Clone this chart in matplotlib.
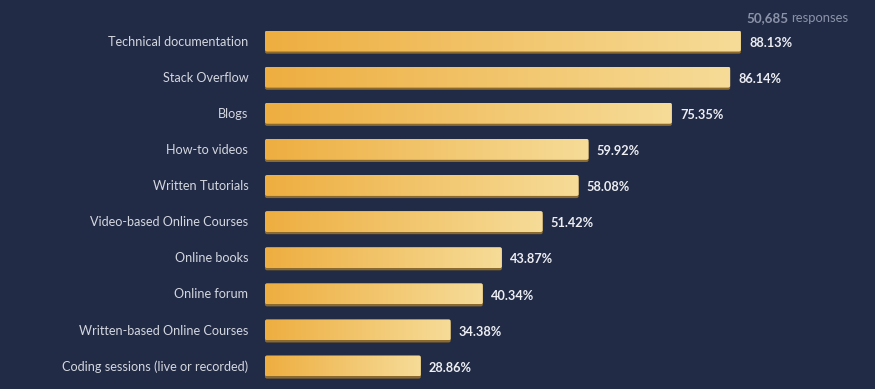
import numpy as np
import matplotlib
matplotlib.use("Agg")
import matplotlib.pyplot as plt
from matplotlib.patches import FancyBboxPatch
from matplotlib.colors import LinearSegmentedColormap

categories = ["Technical documentation", "Stack Overflow", "Blogs", "How-to videos",
              "Written Tutorials", "Video-based Online Courses", "Online books",
              "Online forum", "Written-based Online Courses",
              "Coding sessions (live or recorded)"]
values = [88.13, 86.14, 75.35, 59.92, 58.08, 51.42, 43.87, 40.34, 34.38, 28.86]
responses = "50,685"

BG = "#222b45"
plt.rcParams['font.family'] = ['Lato', 'DejaVu Sans']

fig = plt.figure(figsize=(8.75, 3.89), dpi=100, facecolor=BG)
ax = fig.add_axes([265 / 875, 5 / 389, 540 / 875, 361 / 389])
ax.set_facecolor(BG)
ax.set_xlim(0, 100)
ax.set_ylim(9.5, -0.5)
ax.axis("off")

cmap = LinearSegmentedColormap.from_list("bar", ["#eeae40", "#f6dc98"])
grad = np.linspace(0, 1, 256).reshape(1, -1)
h = 0.58
for i, (cat, v) in enumerate(zip(categories, values)):
    # shadow under the bar
    sh = FancyBboxPatch((0, i - h / 2 + 0.06), v, h, boxstyle="round,pad=0,rounding_size=0.4",
                        mutation_aspect=0.12, fc="#8a6a2e", ec="none", zorder=1)
    ax.add_patch(sh)
    p = FancyBboxPatch((0, i - h / 2), v, h, boxstyle="round,pad=0,rounding_size=0.4",
                       mutation_aspect=0.12, fc="none", ec="none", zorder=2)
    ax.add_patch(p)
    im = ax.imshow(grad, cmap=cmap, extent=(0, v, i + h / 2, i - h / 2),
                   aspect="auto", zorder=2)
    im.set_clip_path(p)
    ax.text(v + 1.5, i + 0.05, f"{v:.2f}%", va="center", ha="left", fontsize=9.2,
            fontweight="bold", color="#eceef3")
    ax.text(-3.1, i + 0.02, cat, va="center", ha="right", fontsize=9.1, color="#d3d7e0")

fig.text(848 / 875, 1 - 18 / 389, "responses", ha="right", va="center",
         fontsize=9.4, color="#8a93a8")
fig.text(789 / 875, 1 - 18 / 389, responses, ha="right", va="center",
         fontsize=9.6, fontweight="bold", color="#8a93a8")

fig.savefig("out.png", dpi=100, facecolor=BG)
